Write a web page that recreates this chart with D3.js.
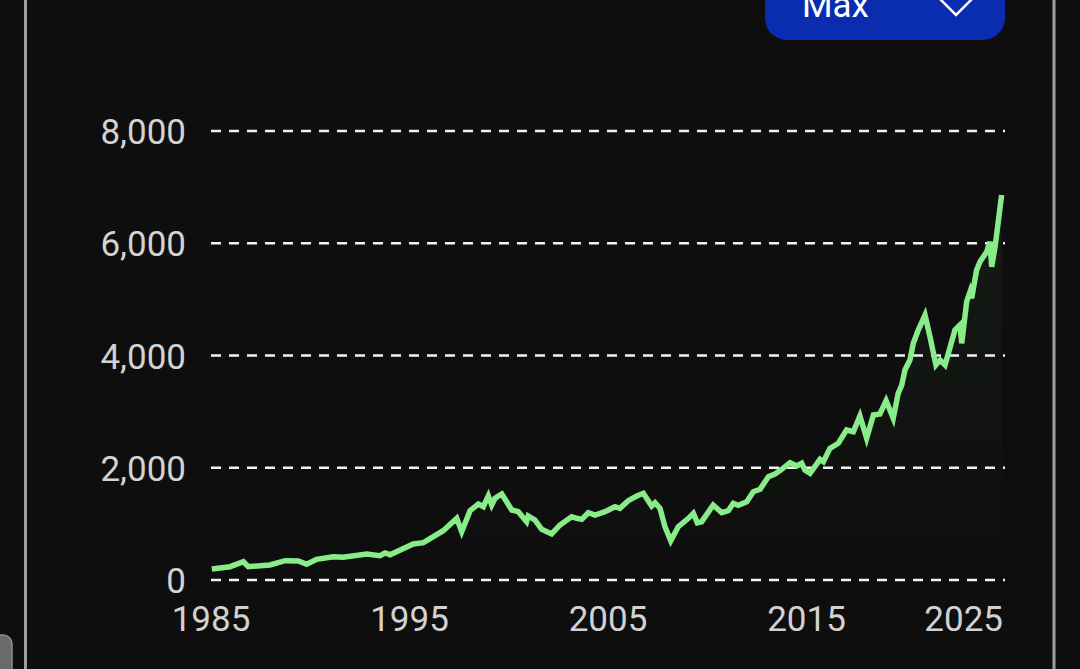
<!DOCTYPE html>
<html>
<head>
<meta charset="utf-8">
<script src="https://cdn.jsdelivr.net/npm/d3@7"></script>
<style>
  html, body { margin: 0; padding: 0; background: #0e0e0e; overflow: hidden; }
  svg { display: block; }
</style>
</head>
<body>
<svg id="chart" width="1080" height="669"></svg>
<script>
// Decimal year of each point
var years = [
  1985.04, 1985.96, 1986.63, 1986.88, 1987.97, 1988.73, 1989.40, 1989.82, 1990.32, 1991.16,
  1991.66, 1992.84, 1993.51, 1993.77, 1994.02, 1995.19, 1995.70, 1996.70, 1997.38, 1997.63,
  1998.05, 1998.47, 1998.72, 1998.97, 1999.14, 1999.31, 1999.65, 2000.15, 2000.48, 2000.90,
  2000.98, 2001.32, 2001.66, 2002.16, 2002.58, 2003.17, 2003.42, 2003.68, 2004.01, 2004.35,
  2004.85, 2005.35, 2005.60, 2006.02, 2006.45, 2006.78, 2007.20, 2007.37, 2007.62, 2007.87,
  2008.16, 2008.54, 2009.05, 2009.30, 2009.50, 2009.72, 2010.30, 2010.73, 2011.06, 2011.31,
  2011.56, 2011.99, 2012.32, 2012.66, 2013.08, 2013.41, 2013.75, 2014.17, 2014.51, 2014.76,
  2014.92, 2015.18, 2015.68, 2015.85, 2016.18, 2016.60, 2017.02, 2017.36, 2017.69, 2018.03,
  2018.37, 2018.70, 2019.01, 2019.37, 2019.62, 2019.80, 2019.96, 2020.21, 2020.38, 2020.63,
  2020.97, 2021.22, 2021.52, 2021.73, 2021.98, 2022.48, 2022.73, 2022.82, 2023.07, 2023.24,
  2023.32, 2023.57, 2023.74, 2024.08, 2024.24, 2024.33, 2024.50, 2024.83
];
var values = [
  196, 237, 326, 237, 267, 344, 339, 280, 369, 415,
  404, 463, 433, 481, 451, 641, 665, 878, 1099, 861,
  1235, 1354, 1306, 1497, 1336, 1456, 1532, 1247, 1217, 1039,
  1140, 1069, 903, 820, 980, 1128, 1099, 1081, 1199, 1158,
  1217, 1306, 1277, 1413, 1497, 1545, 1318, 1377, 1277, 950,
  700, 950, 1099, 1188, 1021, 1039, 1336, 1199, 1235, 1367,
  1331, 1395, 1573, 1616, 1840, 1889, 1972, 2090, 2031, 2079,
  1960, 1901, 2150, 2108, 2346, 2436, 2673, 2642, 2922, 2525,
  2940, 2958, 3195, 2881, 3326, 3474, 3742, 3920, 4217, 4454,
  4721, 4335, 3831, 3920, 3831, 4454, 4543, 4217, 4959, 5137,
  5019, 5523, 5671, 5849, 6027, 5582, 5938, 6860
];
var yTicks = [0, 2000, 4000, 6000, 8000];
var xTicks = [1985, 1995, 2005, 2015, 2025];
var rangeLabel = "Max";

var svg = d3.select("#chart");
var W = 1080, H = 669;

svg.append("rect").attr("width", W).attr("height", H).attr("fill", "#0e0e0e");

// card borders
svg.append("line").attr("x1", 25.5).attr("x2", 25.5).attr("y1", 0).attr("y2", H)
  .attr("stroke", "#9d9d9d").attr("stroke-width", 3);
svg.append("line").attr("x1", 1054).attr("x2", 1054).attr("y1", 0).attr("y2", H)
  .attr("stroke", "#9d9d9d").attr("stroke-width", 3);
svg.append("rect").attr("x", -20).attr("y", 635).attr("width", 32).attr("height", 60).attr("rx", 9)
  .attr("fill", "#6a6a6a").attr("stroke", "#8c8c8c").attr("stroke-width", 1.5);

// range selector button (cut off at top, as in the screenshot)
svg.append("rect").attr("x", 765).attr("y", -30).attr("width", 240).attr("height", 70).attr("rx", 22)
  .attr("fill", "#0a2caf");
svg.append("text").attr("x", 802).attr("y", 17).text(rangeLabel)
  .attr("fill", "#ffffff").style("font-family", "Roboto, sans-serif").style("font-size", "35px");
svg.append("path").attr("d", "M940,-1L956,15L972,-1")
  .attr("fill", "none").attr("stroke", "#ffffff").attr("stroke-width", 2.5);

var x = d3.scaleLinear().domain([1985, 2025]).range([211, 1005]);
var y = d3.scaleLinear().domain([0, 8000]).range([580, 131]);

// gridlines
svg.append("g").selectAll("line").data(yTicks).enter().append("line")
  .attr("x1", x(1985)).attr("x2", x(2025))
  .attr("y1", function (d) { return y(d); })
  .attr("y2", function (d) { return y(d); })
  .attr("stroke", "#f2f2f2").attr("stroke-width", 2.5)
  .attr("stroke-dasharray", "10,8");

// y labels
svg.append("g").selectAll("text").data(yTicks).enter().append("text")
  .attr("x", 186).attr("y", function (d) { return y(d) + 13; })
  .attr("text-anchor", "end")
  .attr("fill", "#d2d2d2")
  .style("font-family", "Roboto, sans-serif").style("font-size", "35px")
  .text(function (d) { return d3.format(",")(d); });

// x labels, the last one kept inside the plot
svg.append("g").selectAll("text").data(xTicks).enter().append("text")
  .attr("x", function (d, i) { return i === xTicks.length - 1 ? 1003 : x(d); })
  .attr("y", 631)
  .attr("text-anchor", function (d, i) { return i === xTicks.length - 1 ? "end" : "middle"; })
  .attr("fill", "#d2d2d2")
  .style("font-family", "Roboto, sans-serif").style("font-size", "35px")
  .text(function (d) { return d; });

var points = years.map(function (d, i) { return { year: d, value: values[i] }; });

// faint area under the line
var grad = svg.append("defs").append("linearGradient").attr("id", "areaFill")
  .attr("x1", 0).attr("x2", 0).attr("y1", 0).attr("y2", 1);
grad.append("stop").attr("offset", "0%").attr("stop-color", "#88ec88").attr("stop-opacity", 0.06);
grad.append("stop").attr("offset", "100%").attr("stop-color", "#88ec88").attr("stop-opacity", 0.0);

var area = d3.area()
  .x(function (d) { return x(d.year); })
  .y0(y(0))
  .y1(function (d) { return y(d.value); });
svg.append("path").datum(points).attr("d", area).attr("fill", "url(#areaFill)");

var line = d3.line()
  .x(function (d) { return x(d.year); })
  .y(function (d) { return y(d.value); });
svg.append("path").datum(points).attr("d", line)
  .attr("fill", "none").attr("stroke", "#88ec88").attr("stroke-width", 5.5)
  .attr("stroke-linejoin", "miter").attr("stroke-linecap", "butt");
</script>
</body>
</html>
